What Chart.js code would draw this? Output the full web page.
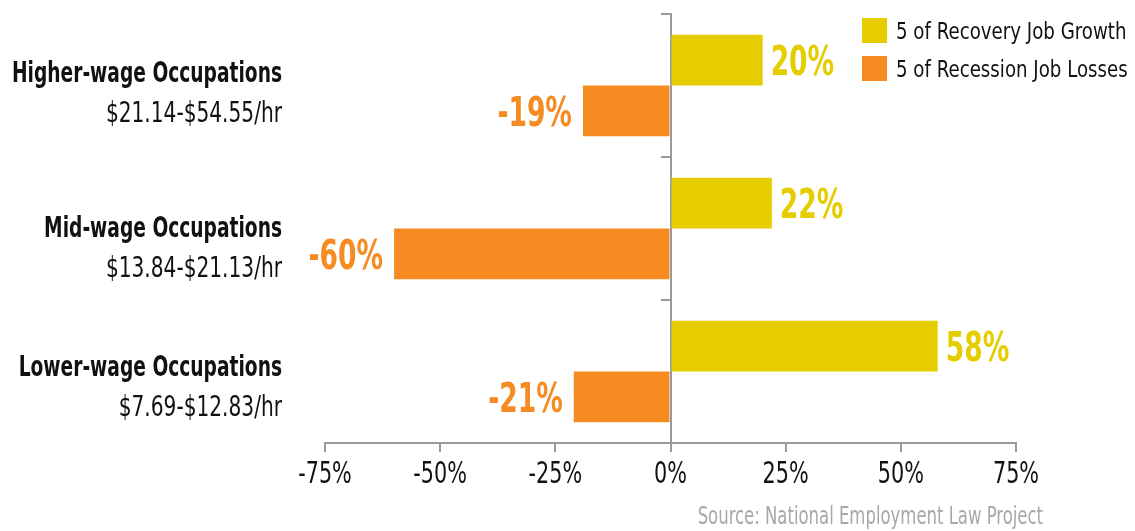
<!DOCTYPE html>
<html>
<head>
<meta charset="utf-8">
<script src="https://cdn.jsdelivr.net/npm/chart.js@4"></script>
<style>
  html, body { margin: 0; padding: 0; background: #fff; }
  .main-chart { width: 1135px; height: 531px; position: relative; }
</style>
</head>
<body>
<div class="main-chart">
  <canvas id="myChart"></canvas>
</div>
<script>
const categories = ["Higher-wage Occupations", "Mid-wage Occupations", "Lower-wage Occupations"];
const wageRanges = ["$21.14-$54.55/hr", "$13.84-$21.13/hr", "$7.69-$12.83/hr"];
const recoveryGrowth = [20, 22, 58];
const recessionLosses = [-19, -60, -21];
const seriesNames = ["5 of Recovery Job Growth", "5 of Recession Job Losses"];
const xTicks = [-75, -50, -25, 0, 25, 50, 75];
const sourceNote = "Source: National Employment Law Project";

const YELLOW = "#e6cd00";
const ORANGE = "#f58b21";
const GREY = "#9a9a9e";
const FONT = '"DejaVu Sans Condensed", "DejaVu Sans", sans-serif';

// the original uses a very narrow face, so squeeze text horizontally
const drawText = (ctx, text, x, y, align, squeeze) => {
  ctx.save();
  ctx.translate(x, y);
  ctx.scale(squeeze, 1);
  ctx.textAlign = align;
  ctx.fillText(text, 0, 0);
  ctx.restore();
};

// small nudges so the row labels sit like in the original
const labelNudge = [-4, 8, 4];

// axis labels, value labels, legend and source all drawn here
const extras = {
  id: "extras",
  afterDraw(chart) {
    const ctx = chart.ctx;
    const { x: xScale, y: yScale } = chart.scales;
    ctx.save();
    ctx.textBaseline = "alphabetic";

    // x tick labels
    ctx.fillStyle = "#111";
    ctx.font = "30px " + FONT;
    xTicks.forEach(v => {
      drawText(ctx, v + "%", xScale.getPixelForValue(v), 483, "center", 0.77);
    });

    // category labels
    categories.forEach((c, i) => {
      const y = yScale.getPixelForValue(i) + labelNudge[i];
      ctx.font = "bold 28px " + FONT;
      drawText(ctx, c, 282, y, "right", 0.74);
      ctx.font = "28px " + FONT;
      drawText(ctx, wageRanges[i], 282, y + 40, "right", 0.8);
    });

    // value labels
    ctx.font = "bold 41px " + FONT;
    chart.data.datasets.forEach((ds, di) => {
      const meta = chart.getDatasetMeta(di);
      ctx.fillStyle = ds.backgroundColor;
      meta.data.forEach((bar, i) => {
        const v = ds.data[i];
        if (v >= 0) {
          drawText(ctx, v + "%", bar.x + 8, bar.y + 15, "left", 0.72);
        } else {
          drawText(ctx, v + "%", bar.x - 11, bar.y + 15, "right", 0.72);
        }
      });
    });

    // legend
    ctx.font = "23px " + FONT;
    chart.data.datasets.forEach((ds, di) => {
      const top = 18 + di * 38;
      ctx.fillStyle = ds.backgroundColor;
      ctx.fillRect(862, top, 25, 25);
      ctx.fillStyle = "#111";
      drawText(ctx, ds.label, 896, top + 21, "left", 0.88);
    });

    // source
    ctx.font = "25px " + FONT;
    ctx.fillStyle = "#a8a8a8";
    drawText(ctx, sourceNote, 1043, 524, "right", 0.733);

    ctx.restore();
  }
};

new Chart(document.getElementById("myChart").getContext("2d"), {
  type: "bar",
  data: {
    labels: categories,
    datasets: [
      {
        label: seriesNames[0],
        data: recoveryGrowth,
        backgroundColor: YELLOW
      },
      {
        label: seriesNames[1],
        data: recessionLosses,
        backgroundColor: ORANGE
      }
    ]
  },
  options: {
    indexAxis: "y",
    responsive: true,
    maintainAspectRatio: false,
    animation: false,
    barPercentage: 1,
    categoryPercentage: 0.71,
    layout: {
      padding: { top: 14, left: 325, right: 119, bottom: 79 }
    },
    plugins: {
      legend: { display: false },
      tooltip: { enabled: false }
    },
    scales: {
      x: {
        min: -75,
        max: 75,
        afterBuildTicks: (scale) => {
          scale.ticks = xTicks.map(v => ({ value: v }));
        },
        ticks: { display: false },
        grid: {
          drawOnChartArea: false,
          tickLength: 9,
          color: GREY,
          lineWidth: 2
        },
        border: { color: GREY, width: 2 }
      },
      y: {
        position: { x: 0 },
        ticks: { display: false },
        grid: {
          drawOnChartArea: false,
          offset: true,
          tickLength: 9,
          color: GREY,
          lineWidth: 2
        },
        border: { color: GREY, width: 2 }
      }
    }
  },
  plugins: [extras]
});
</script>
</body>
</html>
